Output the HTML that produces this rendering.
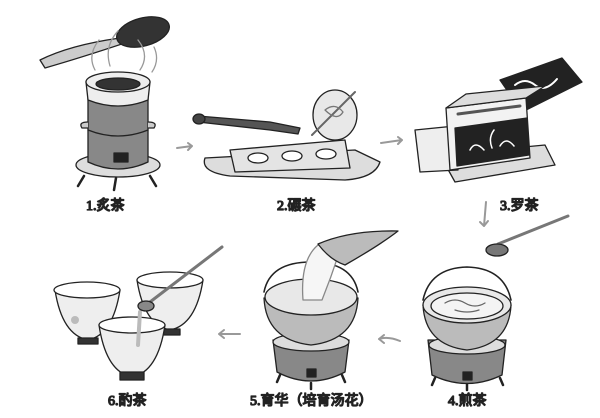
<!DOCTYPE html>
<html><head><meta charset="utf-8"><style>
html,body{margin:0;padding:0;background:#fff;}
svg{display:block}
text{font-family:"Liberation Serif","WenQuanYi Zen Hei",sans-serif;font-size:14px;font-weight:400;fill:#333;}
</style></head><body>
<svg width="600" height="418" viewBox="0 0 600 418" xmlns="http://www.w3.org/2000/svg" stroke="#222" stroke-width="1.3" stroke-linejoin="round" stroke-linecap="round">
<!-- 1 stove -->
<g>
 <path d="M40 60 Q70 45 120 38 L128 42 Q80 58 45 68 Z" fill="#ccc"/>
 <ellipse cx="143" cy="32" rx="27" ry="14" transform="rotate(-15 143 32)" fill="#333"/>
 <path d="M95 70 q-8 -15 4 -30 M110 66 q-6 -20 8 -35 M140 70 q10 -15 -2 -30 M152 72 q8 -12 2 -25" fill="none" stroke="#999"/>
 <ellipse cx="118" cy="165" rx="42" ry="12" fill="#ddd"/>
 <path d="M88 98 L88 162 Q118 176 148 162 L148 98 Z" fill="#888"/>
 <path d="M88 130 Q118 142 148 130" fill="none"/>
 <path d="M86 82 L88 100 Q118 112 148 100 L150 82 Z" fill="#eee"/>
 <ellipse cx="118" cy="82" rx="32" ry="10" fill="#eee"/>
 <ellipse cx="118" cy="84" rx="22" ry="6" fill="#333"/>
 <rect x="114" y="153" width="14" height="9" fill="#222"/>
 <path d="M88 122 q-10 0 -6 6 h6 M148 122 q10 0 6 6 h-6" fill="#ccc"/>
 <path d="M84 176 l-6 10 M116 178 l-2 12 M150 176 l6 10" stroke-width="2.5"/>
</g>
<path d="M177 148 L192 146 M188 143 L192 146 L188 150" fill="none" stroke="#999" stroke-width="2"/>
<!-- 2 grinder -->
<g>
 <path d="M205 158 L355 150 L380 162 Q375 178 345 180 L230 176 Q200 172 205 158 Z" fill="#ddd"/>
 <path d="M230 150 L345 140 L350 168 L235 172 Z" fill="#e4e4e4"/>
 <ellipse cx="258" cy="158" rx="10" ry="5" fill="#fff"/>
 <ellipse cx="292" cy="156" rx="10" ry="5" fill="#fff"/>
 <ellipse cx="326" cy="154" rx="10" ry="5" fill="#fff"/>
 <path d="M198 116 L270 122 L300 128 L298 134 L270 130 L198 122 Z" fill="#555"/>
 <ellipse cx="199" cy="119" rx="6" ry="5" fill="#444"/>
 <ellipse cx="335" cy="115" rx="22" ry="25" fill="#e8e8e8"/>
 <path d="M312 135 L355 92" stroke-width="2" stroke="#666"/>
 <path d="M325 110 q10 -8 18 2 q-6 10 -18 -2" fill="none" stroke="#777"/>
</g>
<path d="M381 143 L402 140 M398 137 L402 140 L398 144" fill="none" stroke="#999" stroke-width="2"/>
<!-- 3 box -->
<g>
 <path d="M500 80 L562 58 L582 82 L522 112 Z" fill="#222"/>
 <path d="M515 85 q10 -8 20 0 q10 8 22 -6" fill="none" stroke="#fff" stroke-width="2"/>
 <path d="M440 155 L545 145 L555 165 L455 182 Z" fill="#ddd"/>
 <path d="M415 130 L455 126 L458 170 L420 172 Z" fill="#eee"/>
 <path d="M446 108 L526 98 L530 158 L450 170 Z" fill="#f2f2f2"/>
 <path d="M446 108 L466 94 L545 86 L526 98 Z" fill="#ddd"/>
 <path d="M455 128 L527 118 L529 155 L457 166 Z" fill="#222"/>
 <path d="M470 150 q5 -10 14 0 M500 146 q6 -10 14 0 M492 148 q-4 -10 2 -18" fill="none" stroke="#fff" stroke-width="1.5"/>
 <path d="M458 114 L520 106" stroke="#555" stroke-width="3"/>
</g>
<path d="M486 202 L484 226 M480 222 L484 226 L488 221" fill="none" stroke="#999" stroke-width="2"/>
<!-- spoon -->
<path d="M498 244 L568 216" stroke="#777" stroke-width="3"/>
<ellipse cx="497" cy="250" rx="11" ry="6" fill="#777"/>
<!-- 4 pot -->
<g>
 <path d="M428 340 L432 375 Q467 392 502 375 L506 340 Z" fill="#888"/>
 <ellipse cx="467" cy="345" rx="38" ry="9" fill="#ddd"/>
 <path d="M423 305 Q425 345 467 350 Q509 345 511 305 Z" fill="#bbb"/>
 <ellipse cx="467" cy="305" rx="44" ry="18" fill="#e8e8e8"/>
 <ellipse cx="467" cy="306" rx="36" ry="13" fill="#f4f4f4"/>
 <path d="M445 303 q10 -6 20 0 q10 6 20 0 M455 310 q12 4 24 0" fill="none" stroke="#666"/>
 <path d="M423 300 Q430 268 467 267 Q504 268 511 300" fill="none" stroke-width="1.6"/>
 <rect x="463" y="372" width="9" height="8" fill="#222"/>
 <path d="M435 378 l-3 7 M467 384 v6 M500 378 l3 7" stroke-width="2.5"/>
</g>
<path d="M400 341 Q388 336 379 339 M384 335 L379 339 L384 343" fill="none" stroke="#999" stroke-width="2"/>
<!-- 5 pot -->
<g>
 <path d="M273 340 L277 372 Q311 390 345 372 L349 340 Z" fill="#888"/>
 <ellipse cx="311" cy="342" rx="38" ry="9" fill="#ddd"/>
 <path d="M264 298 Q266 340 311 345 Q356 340 358 298 Z" fill="#bbb"/>
 <ellipse cx="311" cy="297" rx="46" ry="18" fill="#e8e8e8"/>
 <path d="M264 292 Q270 262 311 262 Q352 262 358 292" fill="none" stroke-width="1.6"/>
 <path d="M303 300 Q300 260 318 245 L340 250 Q332 275 322 300 Z" fill="#f6f6f6" stroke="#888"/>
 <path d="M318 244 Q350 230 398 231 Q380 245 345 265 Q330 260 318 244 Z" fill="#bbb"/>
 <rect x="307" y="369" width="9" height="8" fill="#222"/>
 <path d="M280 375 l-3 7 M311 383 v6 M342 375 l3 7" stroke-width="2.5"/>
</g>
<path d="M240 334 L219 334 M224 330 L219 334 L224 338" fill="none" stroke="#999" stroke-width="2"/>
<!-- 6 bowls -->
<g>
 <path d="M55 290 Q62 335 88 340 Q113 335 120 290 Z" fill="#eee"/>
 <ellipse cx="87" cy="290" rx="33" ry="8" fill="#fff"/>
 <circle cx="75" cy="320" r="4" fill="#bbb" stroke="none"/>
 <rect x="78" y="338" width="20" height="6" fill="#333"/>
 <path d="M137 280 Q144 325 170 330 Q196 325 203 280 Z" fill="#eee"/>
 <ellipse cx="170" cy="280" rx="33" ry="8" fill="#fff"/>
 <rect x="160" y="329" width="20" height="6" fill="#333"/>
 <path d="M99 325 Q106 372 132 377 Q158 372 165 325 Z" fill="#eee"/>
 <ellipse cx="132" cy="325" rx="33" ry="8" fill="#fff"/>
 <rect x="120" y="372" width="24" height="8" fill="#333"/>
 <path d="M140 312 L138 345" stroke="#bbb" stroke-width="4"/>
 <path d="M150 302 L222 247" stroke="#777" stroke-width="3"/>
 <ellipse cx="146" cy="306" rx="8" ry="5" fill="#888"/>
</g>
<!-- labels -->
<text x="86" y="210">1.炙茶</text>
<text x="277" y="210">2.碾茶</text>
<text x="500" y="210">3.罗茶</text>
<text x="448" y="405">4.煎茶</text>
<text x="250" y="405">5.育华（培育汤花）</text>
<text x="108" y="405">6.酌茶</text>
</svg>
</body></html>
